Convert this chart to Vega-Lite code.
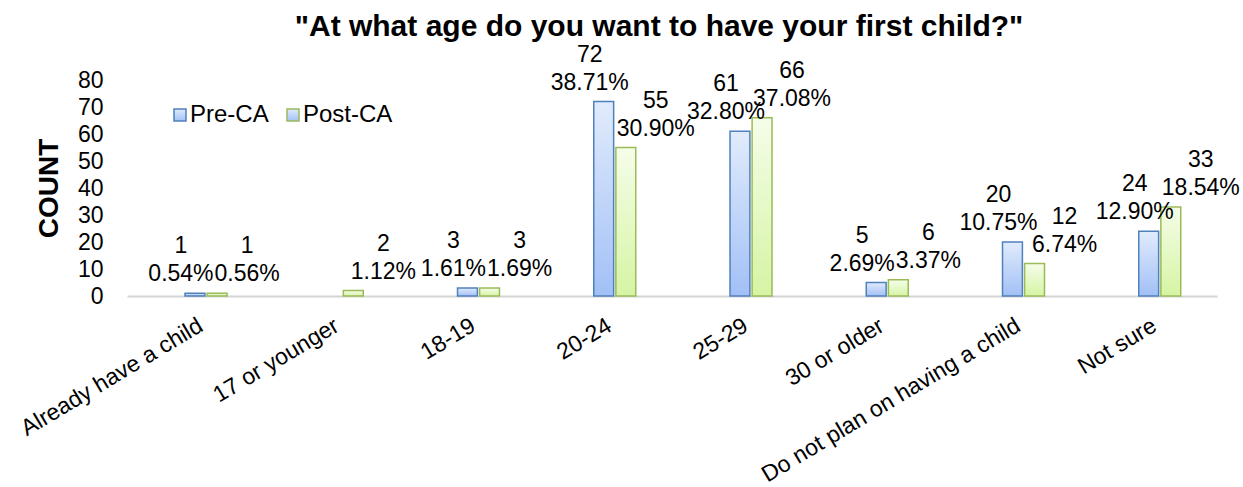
{
  "$schema": "https://vega.github.io/schema/vega-lite/v6.json",
  "width": 1090,
  "height": 216,
  "autosize": "none",
  "padding": {"left": 127, "top": 80, "right": 26, "bottom": 191},
  "background": "white",
  "title": {
    "text": "\"At what age do you want to have your first child?\"",
    "font": "Liberation Sans",
    "fontSize": 30,
    "fontWeight": "bold",
    "color": "black",
    "anchor": "middle",
    "dx": -13,
    "offset": 2
  },
  "config": {"font": "Liberation Sans", "view": {"stroke": null}},
  "data": {
    "values": [
      {"category": "Already have a child", "series": "Pre-CA", "count": 1, "pct": 0.0054},
      {"category": "Already have a child", "series": "Post-CA", "count": 1, "pct": 0.0056},
      {"category": "17 or younger", "series": "Pre-CA", "count": 0, "pct": 0},
      {"category": "17 or younger", "series": "Post-CA", "count": 2, "pct": 0.0112},
      {"category": "18-19", "series": "Pre-CA", "count": 3, "pct": 0.0161},
      {"category": "18-19", "series": "Post-CA", "count": 3, "pct": 0.0169},
      {"category": "20-24", "series": "Pre-CA", "count": 72, "pct": 0.3871},
      {"category": "20-24", "series": "Post-CA", "count": 55, "pct": 0.3090},
      {"category": "25-29", "series": "Pre-CA", "count": 61, "pct": 0.3280},
      {"category": "25-29", "series": "Post-CA", "count": 66, "pct": 0.3708},
      {"category": "30 or older", "series": "Pre-CA", "count": 5, "pct": 0.0269},
      {"category": "30 or older", "series": "Post-CA", "count": 6, "pct": 0.0337},
      {"category": "Do not plan on having a child", "series": "Pre-CA", "count": 20, "pct": 0.1075},
      {"category": "Do not plan on having a child", "series": "Post-CA", "count": 12, "pct": 0.0674},
      {"category": "Not sure", "series": "Pre-CA", "count": 24, "pct": 0.1290},
      {"category": "Not sure", "series": "Post-CA", "count": 33, "pct": 0.1854}
    ]
  },
  "encoding": {
    "x": {
      "field": "category",
      "type": "nominal",
      "sort": ["Already have a child", "17 or younger", "18-19", "20-24", "25-29", "30 or older", "Do not plan on having a child", "Not sure"],
      "scale": {
        "domain": ["Already have a child", "17 or younger", "18-19", "20-24", "25-29", "30 or older", "Do not plan on having a child", "Not sure"],
        "paddingInner": 0.69,
        "paddingOuter": 0.345
      },
      "axis": {
        "title": null,
        "labelAngle": -31,
        "labelAlign": "right",
        "labelBaseline": "top",
        "labelFontSize": 23,
        "labelColor": "black",
        "labelPadding": 18,
        "labelLimit": 400,
        "ticks": false,
        "domain": true,
        "domainColor": "#d4d4d4",
        "domainWidth": 2,
        "grid": false
      }
    },
    "xOffset": {
      "field": "series",
      "type": "nominal",
      "sort": ["Pre-CA", "Post-CA"],
      "scale": {"domain": ["Pre-CA", "Post-CA"], "range": [11, 53], "paddingInner": 0.1, "paddingOuter": 0}
    },
    "y": {
      "field": "count",
      "type": "quantitative",
      "scale": {"domain": [0, 80], "nice": false},
      "axis": {
        "values": [0, 10, 20, 30, 40, 50, 60, 70, 80],
        "title": "COUNT",
        "titleFontSize": 28,
        "titleFontWeight": "bold",
        "titleColor": "black",
        "titlePadding": 14,
        "labelFontSize": 23,
        "labelColor": "black",
        "labelPadding": 24,
        "ticks": false,
        "domain": false,
        "grid": false
      }
    }
  },
  "layer": [
    {
      "transform": [{"filter": "datum.series === 'Pre-CA' && datum.count > 0"}],
      "mark": {
        "type": "bar",
        "strokeWidth": 1.5,
        "fill": {
          "gradient": "linear", "x1": 0, "y1": 0, "x2": 0, "y2": 1,
          "stops": [{"offset": 0, "color": "#e1ebfc"}, {"offset": 1, "color": "#a2c0f6"}]
        }
      },
      "encoding": {
        "stroke": {
          "field": "series",
          "type": "nominal",
          "scale": {"domain": ["Pre-CA", "Post-CA"], "range": ["#4f81bd", "#9bbb59"]},
          "legend": {
            "orient": "none",
            "legendX": 41,
            "legendY": 23,
            "direction": "horizontal",
            "title": null,
            "labelFontSize": 24,
            "labelColor": "black",
            "labelOffset": -2,
            "symbolType": "square",
            "symbolSize": 144,
            "symbolStrokeWidth": 1.5,
            "columnPadding": 12,
            "encode": {
              "symbols": {
                "update": {
                  "fill": {"signal": "datum.value === 'Pre-CA' ? '#c6d9f8' : '#e8f9c8'"},
                  "fillOpacity": {"value": 1}
                }
              }
            }
          }
        }
      }
    },
    {
      "transform": [{"filter": "datum.series === 'Post-CA' && datum.count > 0"}],
      "mark": {
        "type": "bar",
        "strokeWidth": 1.5,
        "fill": {
          "gradient": "linear", "x1": 0, "y1": 0, "x2": 0, "y2": 1,
          "stops": [{"offset": 0, "color": "#f5fde9"}, {"offset": 1, "color": "#d6f4a4"}]
        }
      },
      "encoding": {
        "stroke": {"field": "series", "type": "nominal"}
      }
    },
    {
      "transform": [{"filter": "datum.series === 'Pre-CA' && datum.count > 0"}],
      "mark": {"type": "text", "fontSize": 23, "color": "black", "baseline": "alphabetic", "dx": -14, "dy": -12},
      "encoding": {"text": {"field": "pct", "type": "quantitative", "format": ".2%"}}
    },
    {
      "transform": [{"filter": "datum.series === 'Pre-CA' && datum.count > 0"}],
      "mark": {"type": "text", "fontSize": 23, "color": "black", "baseline": "alphabetic", "dx": -14, "dy": -40},
      "encoding": {"text": {"field": "count", "type": "quantitative", "format": "d"}}
    },
    {
      "transform": [{"filter": "datum.series === 'Post-CA' && datum.count > 0"}],
      "mark": {"type": "text", "fontSize": 23, "color": "black", "baseline": "alphabetic", "dx": 30, "dy": -12},
      "encoding": {"text": {"field": "pct", "type": "quantitative", "format": ".2%"}}
    },
    {
      "transform": [{"filter": "datum.series === 'Post-CA' && datum.count > 0"}],
      "mark": {"type": "text", "fontSize": 23, "color": "black", "baseline": "alphabetic", "dx": 30, "dy": -40},
      "encoding": {"text": {"field": "count", "type": "quantitative", "format": "d"}}
    }
  ]
}
